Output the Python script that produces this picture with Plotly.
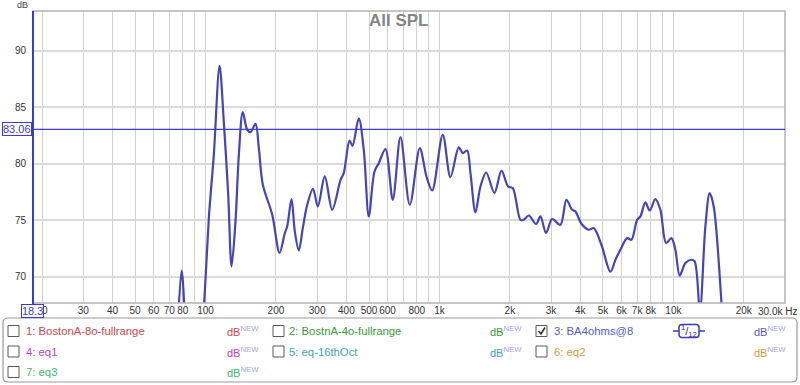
import plotly.graph_objects as go
import math

# ---------------- data ----------------
freq_hz = [75.5, 79.0, 82.9, 90.6, 96.6, 103.3, 108.5, 114.8, 119.7, 125.0,
           129.2, 134.3, 138.8, 144.3, 150.7, 155.7, 163.6, 169.0, 175.8, 192.8,
           207.2, 218.3, 223.4, 233.1, 240.8, 250.5, 260.5, 272.1, 288.1, 302.0,
           323.4, 347.9, 377.6, 389.9, 412.5, 424.8, 451.9, 474.7, 498.7, 527.5,
           550.3, 587.7, 631.5, 681.3, 746.7, 824.0, 879.9, 930.8, 1033, 1114,
           1209, 1258, 1313, 1357, 1425, 1497, 1584, 1718, 1841, 1966,
           2057, 2219, 2293, 2408, 2589, 2701, 2858, 3031, 3289, 3488,
           3690, 3812, 4045, 4345, 4564, 4923, 5381, 5652, 5937, 6341,
           6615, 6998, 7228, 7592, 7920, 8377, 8798, 9307, 9806, 10197,
           10640, 11250, 11940, 12330, 12980, 13700, 14290, 14870, 16040, 16680]
spl_db = [64, 70.53, 64, 55, 64, 75.2, 80.8, 88.67, 83.74, 77.26,
          70.91, 74.89, 80.8, 84.58, 83.01, 82.81, 83.54, 81.39, 78.14, 75.49,
          72.10, 73.87, 74.45, 76.88, 74.01, 72.33, 74.31, 76.37, 77.79, 76.22,
          78.88, 75.93, 78.58, 79.18, 82.06, 81.59, 84.04, 81.24, 75.34, 79.32,
          80.06, 81.30, 76.81, 82.36, 76.37, 81.39, 78.88, 77.64, 82.57, 78.82,
          81.46, 80.95, 81.18, 79.18, 75.69, 77.99, 79.23, 77.41, 79.41, 77.99,
          77.85, 75.04, 75.04, 75.42, 74.66, 75.34, 73.87, 75.11, 74.60, 76.81,
          75.93, 75.78, 74.69, 74.16, 74.31, 72.83, 70.44, 71.50, 72.39, 73.42,
          73.27, 75.04, 75.34, 76.58, 75.87, 76.88, 75.93, 72.98, 73.42, 72.39,
          70.09, 71.21, 71.50, 71.35, 67.0, 74.45, 77.41, 76.22, 67.81, 62]

cursor_db = 83.06
x_min_hz = 18.3
x_max_hz = 30000
y_min_db = 67.67
y_max_db = 93.54

x_tick_vals = [20, 30, 40, 50, 60, 70, 80, 90, 100, 200, 300, 400, 500, 600, 700,
               800, 900, 1000, 2000, 3000, 4000, 5000, 6000, 7000, 8000, 9000,
               10000, 20000]
x_tick_text = ["20", "30", "40", "50", "60", "70", "80", "", "100", "200", "300",
               "400", "500", "600", "", "800", "", "1k", "2k", "3k", "4k", "5k",
               "6k", "7k", "8k", "", "10k", "20k"]
y_tick_vals = [70, 75, 80, 85, 90]

legend_labels = ["1: BostonA-8o-fullrange", "2: BostnA-4o-fullrange", "3: BA4ohms@8",
                 "4: eq1", "5: eq-16thOct", "6: eq2", "7: eq3"]
legend_colors = ["#d04848", "#3c9a3c", "#5a5ad0", "#b444c4", "#3fa4b0", "#c8a040", "#3cb872"]
legend_checked = [False, False, True, False, False, False, False]

# ---------------- layout geometry ----------------
W, H = 800, 385
L, R, T, B = 33, 785, 11, 303
PW, PH = R - L, B - T
FONT = "Liberation Sans, Arial"


def px(x):
    return (x - L) / PW


def py(y):
    return (B - y) / PH


fig = go.Figure()
fig.add_trace(go.Scatter(
    x=freq_hz, y=spl_db, mode="lines",
    line=dict(color="#4545b4", width=2.2, shape="spline", smoothing=0.9),
    hoverinfo="skip", showlegend=False))

shapes = []
annotations = []

# plot frame
shapes.append(dict(type="rect", xref="paper", yref="paper", x0=0, x1=1, y0=0, y1=1,
                   line=dict(color="#b4b4b4", width=1.5), fillcolor="rgba(0,0,0,0)", layer="above"))
# cursor line
shapes.append(dict(type="line", xref="paper", yref="y", x0=0, x1=1, y0=cursor_db, y1=cursor_db,
                   line=dict(color="#3c3cd0", width=1.2), layer="above"))
# left blue axis
shapes.append(dict(type="line", xref="paper", yref="paper", x0=px(33), x1=px(33),
                   y0=py(306), y1=py(T), line=dict(color="#3a3acc", width=2), layer="above"))

# title and labels
annotations.append(dict(text="<b>All SPL</b>", xref="paper", yref="paper", x=px(399), y=py(20),
                        showarrow=False, font=dict(family=FONT, size=17, color="#858585"),
                        xanchor="center", yanchor="middle"))
annotations.append(dict(text="dB", xref="paper", yref="paper", x=px(22), y=py(5),
                        showarrow=False, font=dict(family=FONT, size=9, color="#444"),
                        xanchor="center", yanchor="middle"))
annotations.append(dict(text="%.2f" % cursor_db, xref="paper", yref="y", x=px(17), y=cursor_db,
                        showarrow=False, font=dict(family=FONT, size=11, color="#3c3cd0"),
                        xanchor="center", yanchor="middle", bgcolor="white",
                        bordercolor="#3c3cd0", borderwidth=1, borderpad=0))
annotations.append(dict(text="%.1f" % x_min_hz, xref="paper", yref="paper", x=px(32.5), y=py(311),
                        showarrow=False, font=dict(family=FONT, size=11, color="#3c3cd0"),
                        xanchor="center", yanchor="middle", bgcolor="white",
                        bordercolor="#3c3cd0", borderwidth=1, borderpad=0))
annotations.append(dict(text="30.0k Hz", xref="paper", yref="paper", x=px(799), y=py(311),
                        showarrow=False, font=dict(family=FONT, size=10, color="#333"),
                        xanchor="right", yanchor="middle"))


# legend box (rounded)
def rounded_path(x0, y0, x1, y1, r):
    X0, X1 = px(x0), px(x1)
    Y0, Y1 = py(y0), py(y1)
    rx, ry = r / PW, r / PH
    return (f"M {X0+rx},{Y0} L {X1-rx},{Y0} Q {X1},{Y0} {X1},{Y0-ry} "
            f"L {X1},{Y1+ry} Q {X1},{Y1} {X1-rx},{Y1} L {X0+rx},{Y1} "
            f"Q {X0},{Y1} {X0},{Y1+ry} L {X0},{Y0-ry} Q {X0},{Y0} {X0+rx},{Y0} Z")


shapes.append(dict(type="path", xref="paper", yref="paper", path=rounded_path(3, 318, 797, 382, 5),
                   line=dict(color="#9a9a9a", width=1.2), fillcolor="white", layer="above"))

col_box_x = [8, 273, 536]
col_text_x = [24, 287, 552]
col_db_x = [225, 488, 752]
row_y = [331, 351.5, 372]

for i, (lab, col, chk) in enumerate(zip(legend_labels, legend_colors, legend_checked)):
    r, c = divmod(i, 3)
    yc = row_y[r]
    bx = col_box_x[c]
    shapes.append(dict(type="rect", xref="paper", yref="paper", x0=px(bx), x1=px(bx + 11),
                       y0=py(yc - 5.5), y1=py(yc + 5.5), line=dict(color="#5a5a5a", width=1),
                       fillcolor="white", layer="above"))
    if chk:
        shapes.append(dict(type="path", xref="paper", yref="paper",
                           path=f"M {px(bx+2.5)},{py(yc)} L {px(bx+5)},{py(yc+3)} L {px(bx+9)},{py(yc-3.5)}",
                           line=dict(color="#333", width=1.6), layer="above"))
    annotations.append(dict(text=lab, xref="paper", yref="paper", x=px(col_text_x[c]), y=py(yc),
                            showarrow=False, xanchor="left", yanchor="middle",
                            font=dict(family=FONT, size=11.3, color=col)))
    annotations.append(dict(text="dB<sup><span style='color:#a4a4ec'>NEW</span></sup>",
                            xref="paper", yref="paper", x=px(col_db_x[c]), y=py(yc),
                            showarrow=False, xanchor="left", yanchor="middle",
                            font=dict(family=FONT, size=11, color=col)))

# smoothing icon
shapes.append(dict(type="line", xref="paper", yref="paper", x0=px(673), x1=px(679), y0=py(331), y1=py(331),
                   line=dict(color="#3c3cb4", width=1.5), layer="above"))
shapes.append(dict(type="line", xref="paper", yref="paper", x0=px(699), x1=px(705), y0=py(331), y1=py(331),
                   line=dict(color="#3c3cb4", width=1.5), layer="above"))
shapes.append(dict(type="path", xref="paper", yref="paper", path=rounded_path(679, 324.5, 699, 337.5, 3),
                   line=dict(color="#3c3cb4", width=1.5), fillcolor="white", layer="above"))
annotations.append(dict(text="<sup>1</sup>/<sub>12</sub>", xref="paper", yref="paper", x=px(689), y=py(331),
                        showarrow=False, xanchor="center", yanchor="middle",
                        font=dict(family=FONT, size=11, color="#2e2e90")))

fig.update_layout(
    width=W, height=H,
    margin=dict(l=L, r=W - R, t=T, b=H - B, autoexpand=False),
    paper_bgcolor="white", plot_bgcolor="white",
    showlegend=False,
    shapes=shapes, annotations=annotations,
    xaxis=dict(type="log", range=[math.log10(x_min_hz), math.log10(x_max_hz)],
               tickvals=x_tick_vals, ticktext=x_tick_text, tickangle=0, automargin=False,
               showgrid=True, gridcolor="#d2d2d2", gridwidth=1,
               showline=False, zeroline=False, ticks="",
               tickfont=dict(family=FONT, size=10, color="#333"),
               fixedrange=True),
    yaxis=dict(range=[y_min_db, y_max_db], tickvals=y_tick_vals, automargin=False,
               showgrid=True, gridcolor="#dadada", gridwidth=1.5,
               showline=False, zeroline=False, ticks="", ticklabelstandoff=6,
               tickfont=dict(family=FONT, size=10, color="#333"),
               fixedrange=True),
)

fig.write_html("out.html", config={"displayModeBar": False},
               post_script="document.body.style.margin='0';document.body.style.padding='0';"
                           "document.documentElement.style.overflow='hidden';")
